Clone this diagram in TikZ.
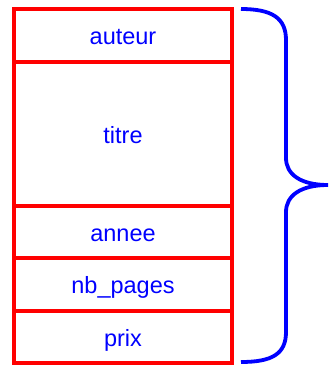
\documentclass[tikz,border=0pt]{standalone}
\usepackage{fontspec}
\setmainfont{Liberation Sans}
\begin{document}
\begin{tikzpicture}[x=1pt,y=-1pt,
  cell/.style={draw=red, line width=3.8pt, minimum width=218pt, inner sep=0pt,
    text height=18.5pt, text depth=0pt,
    text=blue, font=\fontsize{23.5}{28}\selectfont},
  bracestyle/.style={draw=blue, line width=3.8pt}]
\useasboundingbox (0,0) rectangle (329,365);
\node[cell, minimum height=53pt]  (auteur) at (123,35.5) {auteur};
\node[cell, minimum height=144pt] (titre)  at (123,134)  {titre};
\node[cell, minimum height=52pt]  (annee)  at (123,232)  {annee};
\node[cell, minimum height=53pt]  (nbp)    at (123,284.5) {nb\_pages};
\node[cell, minimum height=52pt]  (prix)   at (123,337)  {prix};
\coordinate (tip) at (328,185);
\draw[bracestyle] (241,9) .. controls (272,9) and (286,18) .. (286,40)
  -- (286,158) .. controls (286,174) and (300,185) .. (tip)
  .. controls (300,185) and (286,196) .. (286,212)
  -- (286,332) .. controls (286,354) and (272,362) .. (241,362);
\end{tikzpicture}
\end{document}
